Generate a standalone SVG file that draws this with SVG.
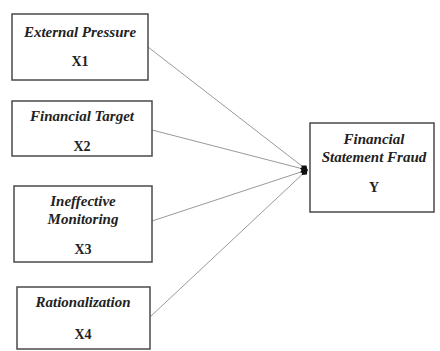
<svg xmlns="http://www.w3.org/2000/svg" width="440" height="351" viewBox="0 0 440 351">
<defs>
<style>
.box{fill:#fff;stroke:#4a4a4a;stroke-width:1.5}
.t{font-weight:bold;font-style:italic;font-size:15px;fill:#222;text-anchor:middle}
.v{font-weight:bold;font-size:14px;fill:#222;text-anchor:middle}
.c{stroke:#9a9a9a;stroke-width:1;fill:none}
</style>
<marker id="ah" viewBox="0 0 10 10" refX="9" refY="5" markerWidth="8" markerHeight="8" orient="auto" markerUnits="userSpaceOnUse">
<path d="M0,5 L5,1 L10,5 L5,9 Z" fill="#111"/>
</marker>
</defs>
<rect width="440" height="351" fill="#fff"/>
<g id="connectors">
<line class="c" x1="148" y1="47" x2="307" y2="170" marker-end="url(#ah)"/>
<line class="c" x1="152" y1="130" x2="307" y2="170" marker-end="url(#ah)"/>
<line class="c" x1="152" y1="221" x2="307" y2="170" marker-end="url(#ah)"/>
<line class="c" x1="150" y1="317" x2="307" y2="170" marker-end="url(#ah)"/>
</g>
<g font-family="'Liberation Serif', 'DejaVu Serif', serif">
<g id="x1">
<rect class="box" x="12" y="14" width="136" height="66"/>
<text class="t" x="80" y="37">External Pressure</text>
<text class="v" x="80" y="66">X1</text>
</g>
<g id="x2">
<rect class="box" x="12" y="101" width="140" height="55"/>
<text class="t" x="82" y="121">Financial Target</text>
<text class="v" x="82" y="151">X2</text>
</g>
<g id="x3">
<rect class="box" x="14" y="186" width="138" height="76"/>
<text class="t" x="83" y="206">Ineffective</text>
<text class="t" x="83" y="224">Monitoring</text>
<text class="v" x="83" y="254">X3</text>
</g>
<g id="x4">
<rect class="box" x="17" y="287" width="133" height="62"/>
<text class="t" x="83" y="307">Rationalization</text>
<text class="v" x="83" y="339">X4</text>
</g>
<g id="y">
<rect class="box" x="310" y="123" width="124" height="89"/>
<text class="t" x="374" y="144">Financial</text>
<text class="t" x="374" y="162">Statement Fraud</text>
<text class="v" x="374" y="192">Y</text>
</g>
</g>
</svg>
